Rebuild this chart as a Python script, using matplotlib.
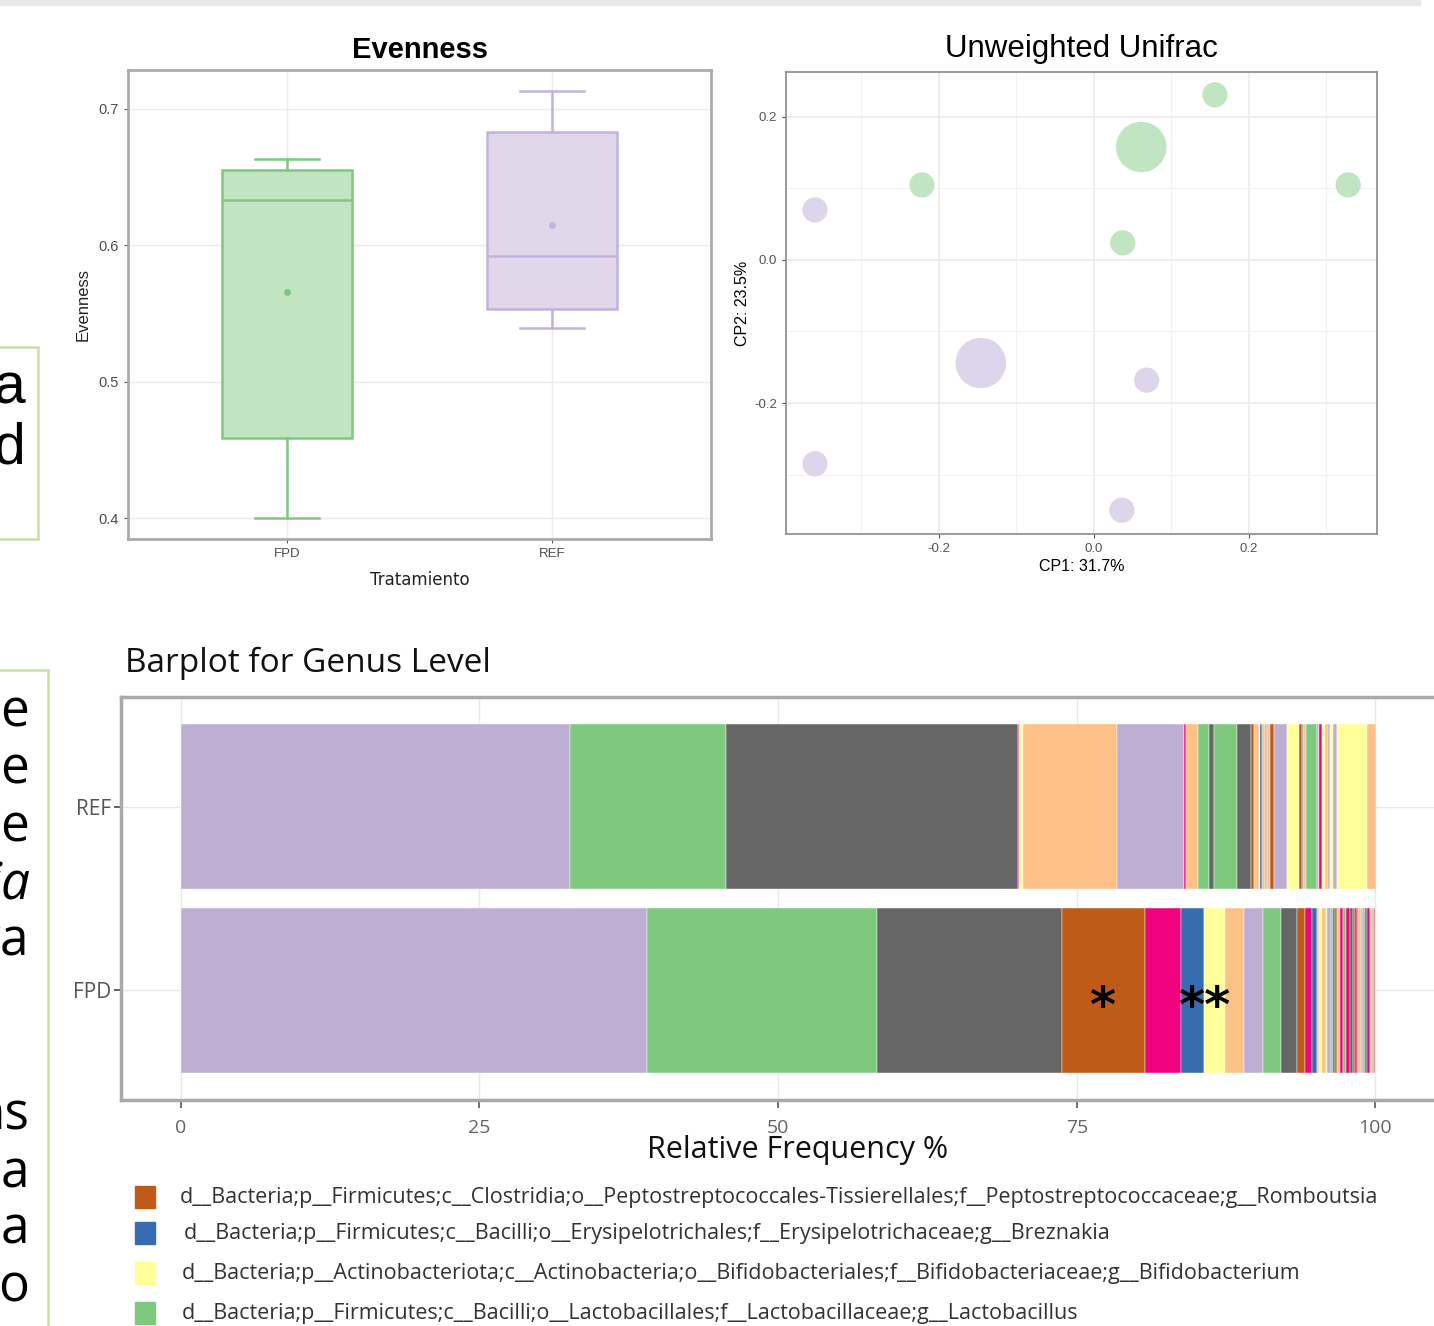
import numpy as np
import matplotlib
matplotlib.use("Agg")
from matplotlib import pyplot as plt
from matplotlib.patches import Rectangle

W, H = 1434, 1326

# ---- Evenness boxplot
box_groups = ['FPD', 'REF']
whis_lo = [0.400, 0.539]
q1 = [0.459, 0.553]
med = [0.633, 0.592]
q3 = [0.655, 0.683]
whis_hi = [0.663, 0.713]
means = [0.566, 0.615]

# ---- Unweighted Unifrac PCoA
pc_green_x = [0.156, 0.061, -0.222, 0.328, 0.037]
pc_green_y = [0.231, 0.158, 0.105, 0.105, 0.024]
pc_green_s = [1, 4, 1, 1, 1]
pc_purple_x = [-0.360, -0.146, 0.068, -0.360, 0.036]
pc_purple_y = [0.070, -0.144, -0.168, -0.285, -0.350]
pc_purple_s = [1, 4, 1, 1, 1]

# ---- Genus barplot
bar_samples = ['FPD', 'REF']
ref_widths = [32.55, 13.05, 24.49, 0.11, 0.31, 7.87, 5.63, 0.13, 1.02, 0.89,
              0.45, 1.89, 1.15, 0.28, 0.42, 0.08, 0.20, 0.25, 0.14, 0.28,
              0.28, 1.12, 0.97, 0.28, 0.13, 0.20, 0.92, 0.22, 0.20, 0.28,
              0.20, 0.17, 0.28, 0.33, 2.51, 0.75]
ref_colors = "PGKMYOPMOGKGKROYBOPORPYRBOGPMYOPYPYO"
fpd_widths = [39.0, 19.25, 15.54, 6.95, 2.95, 1.92, 1.76, 1.65, 1.53, 1.51,
              1.34, 0.67, 0.64, 0.42, 0.13, 0.28, 0.28, 0.14, 0.28, 0.22,
              0.19, 0.14, 0.22, 0.28, 0.28, 0.33, 0.20, 0.15, 0.20, 0.10,
              0.20, 0.20, 0.15, 0.20, 0.20, 0.20, 0.15, 0.15]
fpd_colors = "PGKRMBYOPGKRMBOYOYPGKROMGMKRMBOPGKMOPR"
accent = {'G': '#7FC97F', 'P': '#BEAED4', 'O': '#FDC086', 'Y': '#FFFF99',
          'B': '#386CB0', 'M': '#F0027F', 'R': '#BF5B17', 'K': '#666666'}
star_x = [77.1, 85.7]
star_text = ['*', '**']

legend_labels = [
    'd__Bacteria;p__Firmicutes;c__Clostridia;o__Peptostreptococcales-Tissierellales;f__Peptostreptococcaceae;g__Romboutsia',
    'd__Bacteria;p__Firmicutes;c__Bacilli;o__Erysipelotrichales;f__Erysipelotrichaceae;g__Breznakia',
    'd__Bacteria;p__Actinobacteriota;c__Actinobacteria;o__Bifidobacteriales;f__Bifidobacteriaceae;g__Bifidobacterium',
    'd__Bacteria;p__Firmicutes;c__Bacilli;o__Lactobacillales;f__Lactobacillaceae;g__Lactobacillus',
]
legend_colors = ['R', 'B', 'Y', 'G']


def fx(x):
    return x / W


def fy(y):
    return 1 - y / H


def rect(x0, y0, x1, y1):
    return [fx(x0), fy(y1), fx(x1) - fx(x0), fy(y0) - fy(y1)]


fig = plt.figure(figsize=(W / 100, H / 100), dpi=100)
fig.patch.set_facecolor('white')

# top shadow strip of the screenshot
fig.patches.append(Rectangle((0, fy(5)), fx(1420), fy(0) - fy(5), transform=fig.transFigure,
                             color='#e8e8e8', zorder=0))

# ---------------- Evenness ----------------
ax1 = fig.add_axes(rect(128, 70, 711, 539))
stats = []
for i in range(2):
    stats.append(dict(whislo=whis_lo[i], q1=q1[i], med=med[i], q3=q3[i],
                      whishi=whis_hi[i], mean=means[i], fliers=[], label=box_groups[i]))
edge_cols = ['#7FC97F', '#C2B2DC']
fill_cols = ['#C1E4C1', '#E0D7EB']
bp = ax1.bxp(stats, positions=[1, 2], widths=0.49, capwidths=0.24, patch_artist=True,
             showmeans=True, zorder=3)
for i in range(2):
    bp['boxes'][i].set(facecolor=fill_cols[i], edgecolor=edge_cols[i], linewidth=1.8)
    bp['medians'][i].set(color=edge_cols[i], linewidth=1.8)
    for ln in bp['whiskers'][2 * i:2 * i + 2] + bp['caps'][2 * i:2 * i + 2]:
        ln.set(color=edge_cols[i], linewidth=1.8)
    bp['means'][i].set(marker='o', markersize=5, markerfacecolor=edge_cols[i],
                       markeredgecolor='none')
ax1.set_xlim(0.4, 2.6)
ax1.set_ylim(0.3846, 0.7286)
ax1.set_yticks([0.4, 0.5, 0.6, 0.7])
ax1.set_yticklabels(['0.4', '0.5', '0.6', '0.7'])
ax1.grid(True, color='#ebebeb', linewidth=1, zorder=0)
ax1.set_axisbelow(True)
for sp in ax1.spines.values():
    sp.set_color('#ababab')
    sp.set_linewidth(2)
ax1.tick_params(axis='y', colors='#555555', labelsize=10.5, length=3, width=0.8, labelcolor='#4d4d4d')
ax1.tick_params(axis='x', colors='#555555', labelsize=9.5, length=3, width=0.8, labelcolor='#4d4d4d')
for lab in ax1.get_xticklabels() + ax1.get_yticklabels():
    lab.set_family('Liberation Sans')
ax1.set_title('Evenness', fontsize=21, fontweight='bold', family='Liberation Sans', pad=9)
ax1.set_xlabel('Tratamiento', fontsize=12, family='DejaVu Sans', color='#222222', labelpad=8)
ax1.set_ylabel('Evenness', fontsize=12, family='Liberation Sans', color='#222222', labelpad=6)

# ---------------- Unweighted Unifrac ----------------
ax2 = fig.add_axes(rect(786, 72, 1377, 534))
base = 330
ax2.scatter(pc_green_x, pc_green_y, s=np.array(pc_green_s) * base, color='#C1E5C1',
            edgecolors='none', zorder=3)
ax2.scatter(pc_purple_x, pc_purple_y, s=np.array(pc_purple_s) * base, color='#DDD5EA',
            edgecolors='none', zorder=3)
ax2.set_xlim(-0.3974, 0.3652)
ax2.set_ylim(-0.3832, 0.2629)
ax2.set_xticks([-0.2, 0.0, 0.2])
ax2.set_xticklabels(['-0.2', '0.0', '0.2'])
ax2.set_yticks([-0.2, 0.0, 0.2])
ax2.set_yticklabels(['-0.2', '0.0', '0.2'])
ax2.set_xticks([-0.3, -0.1, 0.1, 0.3], minor=True)
ax2.set_yticks([-0.3, -0.1, 0.1], minor=True)
ax2.grid(True, which='major', color='#ebebeb', linewidth=1.2, zorder=0)
ax2.grid(True, which='minor', color='#f2f2f2', linewidth=0.8, zorder=0)
ax2.set_axisbelow(True)
ax2.tick_params(which='minor', length=0)
ax2.tick_params(colors='#555555', labelsize=9.5, length=3, width=0.8, labelcolor='#555555')
for lab in ax2.get_xticklabels() + ax2.get_yticklabels():
    lab.set_family('Liberation Sans')
for sp in ax2.spines.values():
    sp.set_color('#8a8a8a')
    sp.set_linewidth(1.2)
ax2.set_title('Unweighted Unifrac', fontsize=22.5, family='Liberation Sans', pad=11)
ax2.set_xlabel('CP1: 31.7%', fontsize=11.5, family='Liberation Sans', labelpad=3)
ax2.set_ylabel('CP2: 23.5%', fontsize=11.5, family='Liberation Sans', labelpad=3)

# ---------------- Barplot for Genus Level ----------------
ax3 = fig.add_axes(rect(121, 697, 1440, 1100))
bar_data = {'REF': (ref_widths, ref_colors), 'FPD': (fpd_widths, fpd_colors)}
for yi, name in enumerate(bar_samples):
    widths, cols = bar_data[name]
    left = 0.0
    for w, c in zip(widths, cols):
        ax3.barh(yi, w, left=left, height=0.9, color=accent[c], edgecolor='white',
                 linewidth=0.3, zorder=3)
        left += w
for x, t in zip(star_x, star_text):
    ax3.text(x, -0.1, t, fontsize=36, fontweight='bold', ha='center', va='center',
             family='DejaVu Sans', zorder=5)
ax3.set_xlim(-5, 105.4)
ax3.set_ylim(-0.6, 1.6)
ax3.set_xticks([0, 25, 50, 75, 100])
ax3.set_yticks([0, 1])
ax3.set_yticklabels(bar_samples)
ax3.grid(True, color='#e8e8e8', linewidth=1, zorder=0)
ax3.set_axisbelow(True)
for sp in ax3.spines.values():
    sp.set_color('#a9a9a9')
    sp.set_linewidth(2.5)
ax3.tick_params(axis='y', colors='#444444', labelsize=15, length=5, width=1.2,
                labelcolor='#555555', pad=2)
ax3.tick_params(axis='x', colors='#555555', labelsize=14, length=6, width=1.2,
                labelcolor='#666666', pad=8)
for lab in ax3.get_xticklabels() + ax3.get_yticklabels():
    lab.set_family('Open Sans')
ax3.set_xlabel('Relative Frequency %', fontsize=22, family='Open Sans', color='#111111',
               labelpad=-2)
ax3.xaxis.label.set_x((798 - 121) / (1440 - 121))
fig.text(fx(125), fy(663), 'Barplot for Genus Level', fontsize=24, family='Open Sans',
         ha='left', va='center', color='#111111')

# legend drawn below the barplot
leg_y = [1197, 1233, 1273, 1313]
leg_tx = [180, 184, 182, 182]
for y, tx, lab, c in zip(leg_y, leg_tx, legend_labels, legend_colors):
    fig.patches.append(Rectangle((fx(135), fy(y + 11)), fx(20), fy(0) - fy(22),
                                 transform=fig.transFigure, color=accent[c]))
    fig.text(fx(tx), fy(y), lab, fontsize=15.5, family='Open Sans', ha='left', va='center',
             color='#333333')

# ---------------- slide fragments at the left edge ----------------
green_border = '#C9DDA6'
fig.patches.append(Rectangle((fx(-5), fy(539)), fx(43), fy(347) - fy(539), transform=fig.transFigure,
                             fill=False, edgecolor=green_border, linewidth=1.8))
fig.patches.append(Rectangle((fx(-5), fy(1340)), fx(53), fy(670) - fy(1340), transform=fig.transFigure,
                             fill=False, edgecolor=green_border, linewidth=1.8))
for y, t in zip([403, 463], ['a', 'd']):
    fig.text(fx(25), fy(y), t, fontsize=41, family='Liberation Sans', ha='right',
             va='baseline', color='black')
frag_lines = ['e', 'e', 'e', 'ia', 'ra', 'ns', 'a', 'a', 'o']
frag_base = [726, 783, 841, 899, 956, 1129, 1187, 1244, 1302]
frag_right = [29, 29, 29, 31, 29, 29, 29, 29, 29]
for y, xr, t in zip(frag_base, frag_right, frag_lines):
    fig.text(fx(xr), fy(y), t, fontsize=37, family='Open Sans', ha='right', va='baseline',
             color='black', style='italic' if t == 'ia' else 'normal')

fig.savefig('out.png', dpi=100)
